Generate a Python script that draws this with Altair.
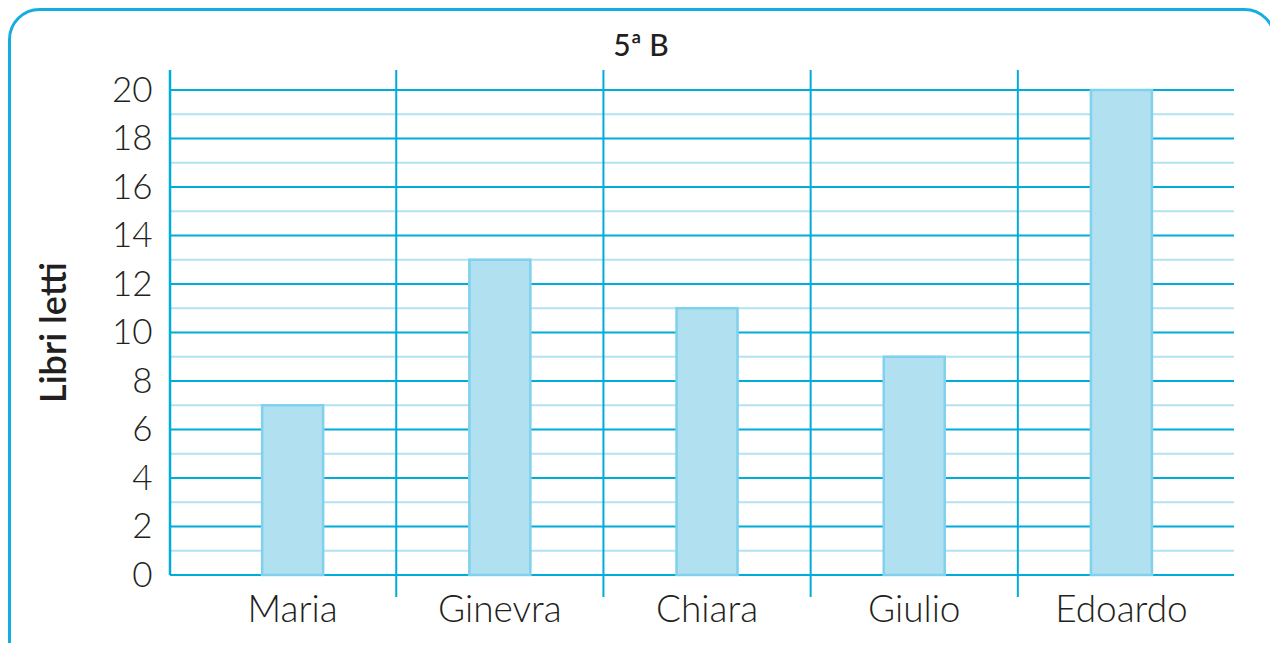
import altair as alt
import pandas as pd

names = ["Maria", "Ginevra", "Chiara", "Giulio", "Edoardo"]
libri = [7, 13, 11, 9, 20]
y_ticks = list(range(0, 21, 2))
grid_major = list(range(0, 21, 2))
grid_minor = list(range(1, 20, 2))
separators = ["Ginevra", "Chiara", "Giulio", "Edoardo"]
title_text = "5ª B"
y_title = "Libri letti"

W, H = 1064, 485
DARK = "#00acd9"
LIGHT = "#b3e2f2"
BAR_FILL = "#b1e0f1"
BAR_STROKE = "#7fd1ed"
BORDER = "#14addf"
TEXT = "#231f20"
FONT = "Lato"

xscale = alt.Scale(domain=names, paddingInner=0, paddingOuter=0.0676, align=0.68)
yscale = alt.Scale(domain=[0, 20], nice=False, zero=True)

x_axis = alt.Axis(
    title=None, domain=False, ticks=False, grid=False,
    labelFont=FONT, labelFontSize=37, labelFontWeight=300,
    labelColor=TEXT, labelPadding=17, labelAngle=0
)
y_axis = alt.Axis(
    values=y_ticks, title=y_title, domain=False, ticks=False, grid=False,
    labelFont=FONT, labelFontSize=35, labelFontWeight=300,
    labelColor=TEXT, labelPadding=18,
    titleFont=FONT, titleFontSize=36, titleFontWeight=600,
    titleColor=TEXT, titleAngle=-90, titleX=-116, titleY=242,
    titleAlign="center", titleBaseline="middle"
)

one = pd.DataFrame({"a": [0]})

border = alt.Chart(one).mark_rect(
    fillOpacity=0, stroke=BORDER, strokeWidth=3, cornerRadius=30
).encode(
    x=alt.value(-160.5), x2=alt.value(1104.5),
    y=alt.value(-80.5), y2=alt.value(620)
)

minor = alt.Chart(pd.DataFrame({"libri": grid_minor})).mark_rule(
    color=LIGHT, strokeWidth=2
).encode(
    y=alt.Y("libri:Q", scale=yscale, axis=y_axis),
    x=alt.value(0), x2=alt.value(W)
)

major = alt.Chart(pd.DataFrame({"libri": grid_major})).mark_rule(
    color=DARK, strokeWidth=2
).encode(
    y=alt.Y("libri:Q", scale=yscale, axis=y_axis),
    x=alt.value(0), x2=alt.value(W)
)

left_axis = alt.Chart(one).mark_rule(color=DARK, strokeWidth=2.5).encode(
    x=alt.value(0), y=alt.value(-20), y2=alt.value(H)
)

seps = alt.Chart(pd.DataFrame({"name": separators})).mark_rule(
    color=DARK, strokeWidth=2
).encode(
    x=alt.X("name:N", scale=xscale, sort=names, bandPosition=0, axis=x_axis),
    y=alt.value(-20), y2=alt.value(H + 22)
)

bars = alt.Chart(pd.DataFrame({"name": names, "libri": libri})).mark_bar(
    size=61, fill=BAR_FILL, stroke=BAR_STROKE, strokeWidth=2.5
).encode(
    x=alt.X("name:N", scale=xscale, sort=names, axis=x_axis),
    y=alt.Y("libri:Q", scale=yscale, axis=y_axis)
)

title = alt.Chart(one).mark_text(
    text=title_text, font=FONT, fontSize=30, fontWeight=500, color=TEXT,
    align="center", baseline="middle"
).encode(x=alt.value(471), y=alt.value(-43))

chart = alt.layer(border, minor, major, left_axis, seps, bars, title).properties(
    width=W, height=H,
    autosize=alt.AutoSizeParams(type="none"),
    padding={"left": 162, "top": 82, "right": 36, "bottom": 68},
).configure_view(stroke=None)

chart.save("out.html", embed_options={"renderer": "svg", "actions": False})
